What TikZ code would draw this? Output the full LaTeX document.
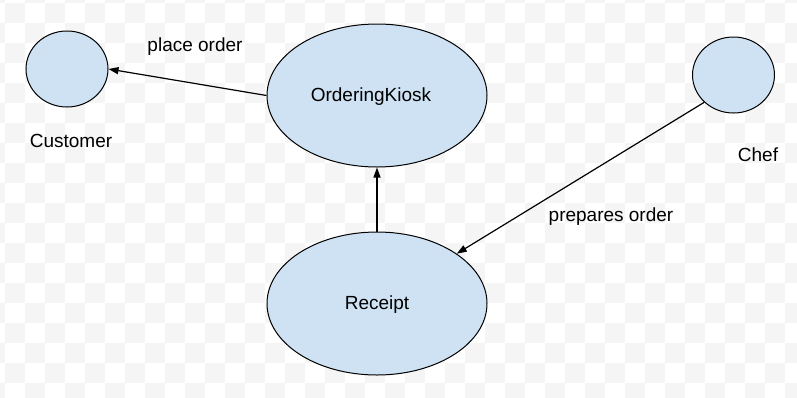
\documentclass[tikz,border=0pt]{standalone}
\usepackage{fontspec}
\setmainfont{Liberation Sans}
\usetikzlibrary{shapes.geometric,arrows.meta}
\definecolor{fillblue}{RGB}{207,226,243}
\definecolor{checkgrey}{RGB}{245,245,245}
\tikzset{
  usecase/.style={ellipse, draw=black, line width=1pt, fill=fillblue, inner sep=0pt},
  big/.style={usecase, minimum width=220pt, minimum height=143pt},
  small/.style={usecase, minimum width=82pt, minimum height=76pt},
  lbl/.style={font=\fontsize{19}{22}\selectfont, inner sep=0pt, text=black},
  conn/.style={line width=1.2pt, -{Triangle[length=10pt,width=7pt]}}
}
\begin{document}
\begin{tikzpicture}[x=1pt,y=-1pt]
\useasboundingbox (0,0) rectangle (797,397);
\fill[white] (0,0) rectangle (797,397);
\begin{scope}
\clip (0,0) rectangle (797,397);
\foreach \r in {-1,...,19}{
  \foreach \c in {-1,...,39}{
    \pgfmathtruncatemacro\p{mod(\r+\c+2,2)}
    \ifnum\p=0
      \fill[checkgrey] (5+20*\c,3+20*\r) rectangle ++(20,20);
    \fi
  }
}
\end{scope}
\node[small] (cust) at (67,69) {};
\node[small] (chef) at (733.5,75) {};
\node[big] (kiosk) at (377,95.5) {};
\node[big] (receipt) at (377,303.5) {};
\node[lbl] (kiosklbl) at (371,97) {OrderingKiosk};
\node[lbl] (receiptlbl) at (377,305) {Receipt};
\node[lbl] (custlbl) at (71,141) {Customer};
\node[lbl] (cheflbl) at (758,155) {Chef};
\node[lbl] (placelbl) at (195,47) {place order};
\node[lbl] (preplbl) at (611,217) {prepares order};
\draw[conn] (kiosk.west) -- (cust.east);
\draw[conn] (receipt.north) -- (kiosk.south);
\draw[conn] (chef.223.5) -- (receipt.32.9);
\end{tikzpicture}
\end{document}
